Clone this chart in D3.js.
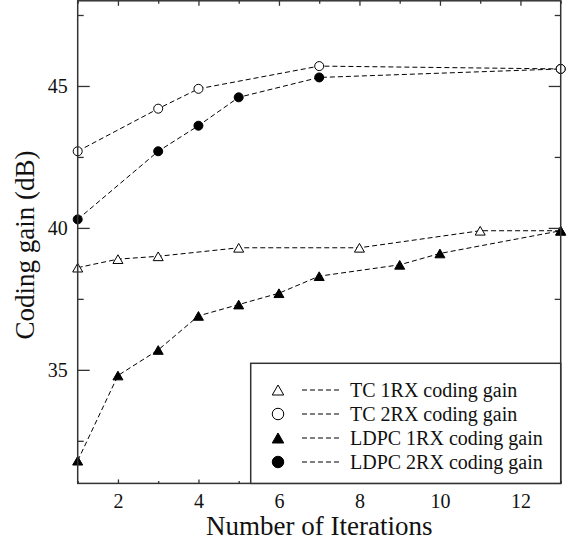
<!DOCTYPE html>
<html>
<head>
<meta charset="utf-8">
<script src="https://cdn.jsdelivr.net/npm/d3@7"></script>
<style>
  html, body { margin: 0; padding: 0; background: #fff; }
  svg { display: block; }
  text { font-family: "Liberation Serif", "Times New Roman", serif; fill: #111; }
</style>
</head>
<body>
<svg id="chart" width="579" height="545"></svg>
<script>
// Coding gain versus decoder iterations
const tc1Iter = [1, 2, 3, 5, 8, 11, 13];
const tc1Gain = [38.6, 38.9, 39.0, 39.3, 39.3, 39.9, 39.9];

const tc2Iter = [1, 3, 4, 7, 13];
const tc2Gain = [42.7, 44.2, 44.9, 45.7, 45.6];

const ldpc1Iter = [1, 2, 3, 4, 5, 6, 7, 9, 10, 13];
const ldpc1Gain = [31.8, 34.8, 35.7, 36.9, 37.3, 37.7, 38.3, 38.7, 39.1, 39.9];

const ldpc2Iter = [1, 3, 4, 5, 7, 13];
const ldpc2Gain = [40.3, 42.7, 43.6, 44.6, 45.3, 45.6];

const seriesNames = ["TC 1RX coding gain", "TC 2RX coding gain", "LDPC 1RX coding gain", "LDPC 2RX coding gain"];

const xMajorTicks = [2, 4, 6, 8, 10, 12];
const xMinorTicks = [1, 3, 5, 7, 9, 11, 13];
const yMajorTicks = [35, 40, 45];
const yMinorTicks = [32.5, 37.5, 42.5, 47.5];

const xTitle = "Number of Iterations";
const yTitle = "Coding gain (dB)";

const svg = d3.select("#chart");
const plotLeft = 77.7, plotRight = 560.7, plotTop = 0.8, plotBottom = 483.4;

const x = d3.scaleLinear().domain([1, 13]).range([plotLeft, plotRight]);
const y = d3.scaleLinear().domain([31, 48]).range([plotBottom, plotTop]);

const frameColor = "#333";

// Marker path: bbox-centred triangle or circle
function markerPath(shape, w) {
  if (shape === "tri") {
    const h = w * 0.87;
    return `M0,${-h / 2}L${w / 2},${h / 2}L${-w / 2},${h / 2}Z`;
  }
  const r = w / 2;
  return `M${r},0A${r},${r} 0 1,1 ${-r},0A${r},${r} 0 1,1 ${r},0Z`;
}

const series = [
  { name: seriesNames[3], xs: ldpc2Iter, ys: ldpc2Gain, shape: "circ", filled: true },
  { name: seriesNames[1], xs: tc2Iter, ys: tc2Gain, shape: "circ", filled: false },
  { name: seriesNames[0], xs: tc1Iter, ys: tc1Gain, shape: "tri", filled: false },
  { name: seriesNames[2], xs: ldpc1Iter, ys: ldpc1Gain, shape: "tri", filled: true }
];

const line = d3.line().x(d => x(d[0])).y(d => y(d[1]));

series.forEach(s => {
  const pts = s.xs.map((v, i) => [v, s.ys[i]]);
  svg.append("path")
    .attr("d", line(pts))
    .attr("fill", "none")
    .attr("stroke", "#000")
    .attr("stroke-width", 1)
    .attr("stroke-dasharray", "5,3");
});

series.forEach(s => {
  const pts = s.xs.map((v, i) => [v, s.ys[i]]);
  svg.append("g").selectAll("path")
    .data(pts)
    .join("path")
    .attr("transform", d => `translate(${x(d[0])},${y(d[1])})`)
    .attr("d", markerPath(s.shape, s.shape === "tri" ? 10 : 9))
    .attr("fill", s.filled ? "#000" : "#fff")
    .attr("stroke", "#000")
    .attr("stroke-width", 1);
});

// Axes: ticks point inward, mirrored on top and right
function styleAxis(g) {
  g.select(".domain").remove();
  g.selectAll("line").attr("stroke", frameColor).attr("stroke-width", 1.3);
  g.selectAll("text")
    .style("font-family", '"Liberation Serif", "Times New Roman", serif')
    .style("font-size", "20px")
    .attr("fill", "#111");
}

svg.append("g").attr("transform", `translate(0,${plotBottom})`)
  .call(d3.axisBottom(x).tickValues(xMajorTicks).tickSize(-4).tickPadding(10.5).tickFormat(d3.format("d")))
  .call(styleAxis);
svg.append("g").attr("transform", `translate(0,${plotBottom})`)
  .call(d3.axisBottom(x).tickValues(xMinorTicks).tickSize(-2.5).tickFormat(""))
  .call(styleAxis);
svg.append("g").attr("transform", `translate(0,${plotTop})`)
  .call(d3.axisTop(x).tickValues(xMajorTicks).tickSize(-5).tickFormat(""))
  .call(styleAxis);
svg.append("g").attr("transform", `translate(0,${plotTop})`)
  .call(d3.axisTop(x).tickValues(xMinorTicks).tickSize(-3).tickFormat(""))
  .call(styleAxis);

svg.append("g").attr("transform", `translate(${plotLeft},0)`)
  .call(d3.axisLeft(y).tickValues(yMajorTicks).tickSize(-12).tickPadding(10).tickFormat(d3.format("d")))
  .call(styleAxis);
svg.append("g").attr("transform", `translate(${plotLeft},0)`)
  .call(d3.axisLeft(y).tickValues(yMinorTicks).tickSize(-6).tickFormat(""))
  .call(styleAxis);
svg.append("g").attr("transform", `translate(${plotRight},0)`)
  .call(d3.axisRight(y).tickValues(yMajorTicks).tickSize(-12).tickFormat(""))
  .call(styleAxis);
svg.append("g").attr("transform", `translate(${plotRight},0)`)
  .call(d3.axisRight(y).tickValues(yMinorTicks).tickSize(-6).tickFormat(""))
  .call(styleAxis);

// Plot frame
svg.append("rect")
  .attr("x", plotLeft).attr("y", plotTop)
  .attr("width", plotRight - plotLeft).attr("height", plotBottom - plotTop)
  .attr("fill", "none").attr("stroke", frameColor).attr("stroke-width", 1.5);

// Axis titles
svg.append("text")
  .attr("x", (plotLeft + plotRight) / 2).attr("y", 535)
  .attr("text-anchor", "middle")
  .style("font-size", "27px")
  .text(xTitle);

svg.append("text")
  .attr("transform", `translate(34,${(plotTop + plotBottom) / 2 + 3}) rotate(-90)`)
  .attr("text-anchor", "middle")
  .style("font-size", "27px")
  .text(yTitle);

// Legend
const legLeft = 250.7, legTop = 363.3;
const legend = svg.append("g");
legend.append("rect")
  .attr("x", legLeft).attr("y", legTop)
  .attr("width", plotRight - legLeft).attr("height", plotBottom - legTop)
  .attr("fill", "#fff").attr("stroke", frameColor).attr("stroke-width", 1.5);

const legendItems = [series[2], series[1], series[3], series[0]];
legendItems.forEach((s, i) => {
  const cy = 390 + i * 24;
  legend.append("path")
    .attr("transform", `translate(278,${cy})`)
    .attr("d", markerPath(s.shape, 11.5))
    .attr("fill", s.filled ? "#000" : "#fff")
    .attr("stroke", "#000").attr("stroke-width", 1);
  legend.append("line")
    .attr("x1", 302).attr("x2", 340).attr("y1", cy).attr("y2", cy)
    .attr("stroke", "#000").attr("stroke-width", 1)
    .attr("stroke-dasharray", "5,3");
  legend.append("text")
    .attr("x", 350).attr("y", cy + 6.5)
    .style("font-size", "20px")
    .text(s.name);
});
</script>
</body>
</html>
